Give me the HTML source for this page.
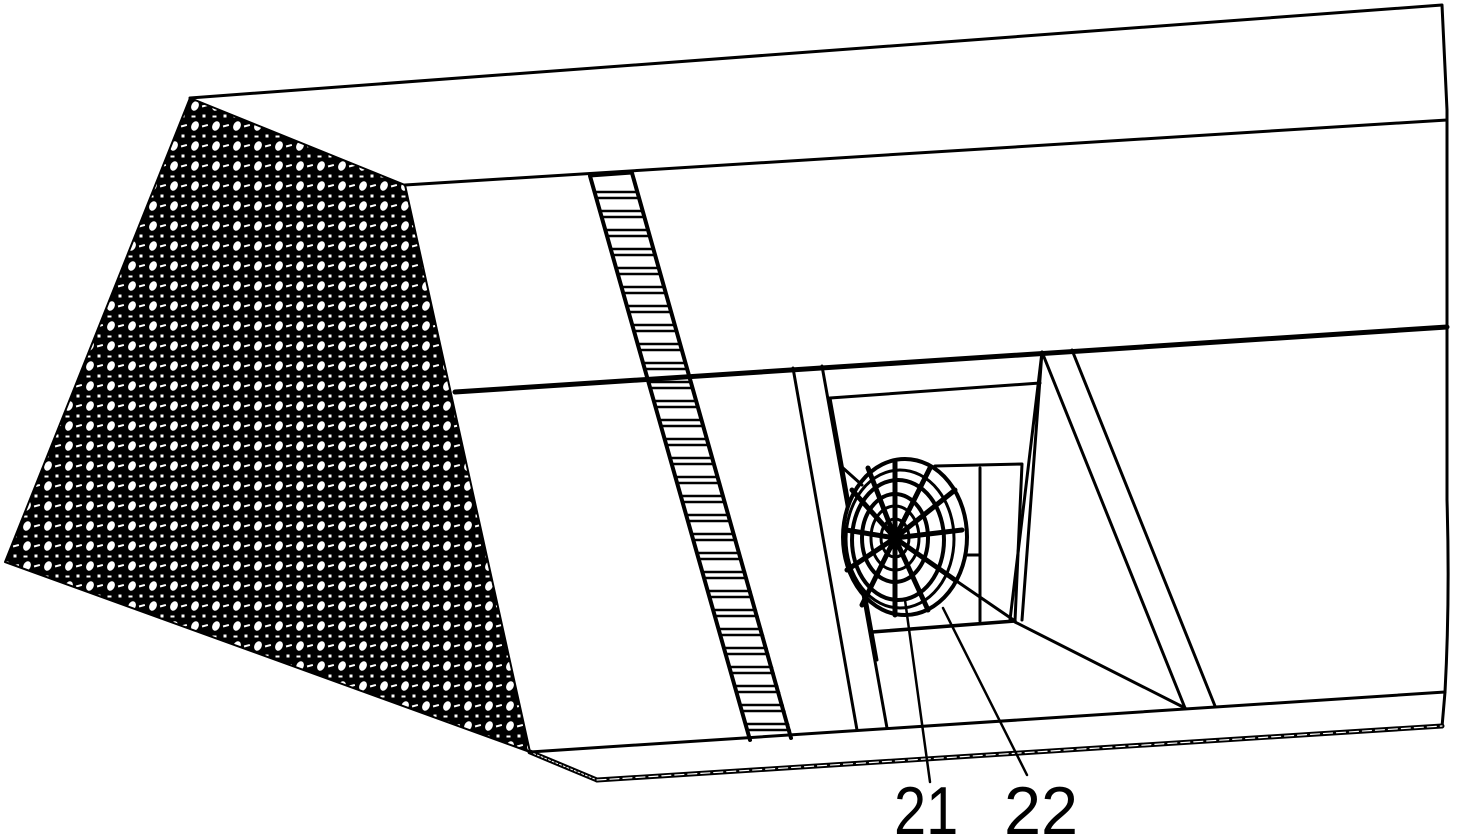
<!DOCTYPE html>
<html><head><style>html,body{margin:0;padding:0;background:#fff}svg{display:block}</style></head>
<body>
<svg width="1462" height="839" viewBox="0 0 1462 839" xmlns="http://www.w3.org/2000/svg">
<defs>
<pattern id="mesh" patternUnits="userSpaceOnUse" width="21" height="20">
<rect width="21" height="20" fill="#000"/>
<ellipse cx="6" cy="6" rx="3.6" ry="5" fill="#fff" transform="rotate(25 6 6)"/>
<rect x="13" y="5" width="6" height="2" fill="#fff" transform="rotate(-15 15 6)"/>
<rect x="2.5" y="15.5" width="4" height="2" fill="#fff"/>
<rect x="13.5" y="14.5" width="3" height="3" fill="#fff"/>
</pattern>
</defs>
<g fill="none" stroke="#000" stroke-linecap="round" stroke-linejoin="round">
<polygon points="190,98 405,185 530,752 5,562" fill="url(#mesh)" stroke="#000" stroke-width="2"/>
<path d="M530,752 L597,780" stroke-width="5"/>
<path d="M530,752 L597,780" stroke="#fff" stroke-width="1" stroke-dasharray="2 2"/>
<path d="M190,98 L1442,5 L1447,110 L1447,500 Q1450,600 1445,692 L1442,727" stroke-width="3"/>
<path d="M405,185 L1447,120" stroke-width="3"/>
<path d="M455,392 L1447,327" stroke-width="5"/>
<path d="M530,752 L1445,692" stroke-width="3"/>
<path d="M597,780 L1442,726" stroke-width="5"/>
<path d="M597,780 L1442,726" stroke="#fff" stroke-width="1.2" stroke-dasharray="9 4"/>
<path d="M590,176 L750,740 M632,173 L791,738" stroke-width="4"/>
<path d="M590,176 L632,173" stroke-width="3"/>
<g transform="translate(540.2,0) skewX(15.8)" stroke-width="2.5">
<path d="M0,192 L43,192 M0,198 L43,198 M0,211 L43,211 M0,217 L43,217 M0,230 L43,230 M0,236 L43,236 M0,249 L43,249 M0,255 L43,255 M0,268 L43,268 M0,274 L43,274 M0,287 L43,287 M0,293 L43,293 M0,306 L43,306 M0,312 L43,312 M0,325 L43,325 M0,331 L43,331 M0,344 L43,344 M0,350 L43,350 M0,363 L43,363 M0,369 L43,369 M0,382 L43,382 M0,388 L43,388 M0,401 L43,401 M0,407 L43,407 M0,420 L43,420 M0,426 L43,426 M0,439 L43,439 M0,445 L43,445 M0,458 L43,458 M0,464 L43,464 M0,477 L43,477 M0,483 L43,483 M0,496 L43,496 M0,502 L43,502 M0,515 L43,515 M0,521 L43,521 M0,534 L43,534 M0,540 L43,540 M0,553 L43,553 M0,559 L43,559 M0,572 L43,572 M0,578 L43,578 M0,591 L43,591 M0,597 L43,597 M0,610 L43,610 M0,616 L43,616 M0,629 L43,629 M0,635 L43,635 M0,648 L43,648 M0,654 L43,654 M0,667 L43,667 M0,673 L43,673 M0,686 L43,686 M0,692 L43,692 M0,705 L43,705 M0,711 L43,711 M0,724 L43,724 M0,730 L43,730"/>
</g>
<path d="M793,368 L857,730 M822,366 L887,728" stroke-width="3"/>
<path d="M830,398 L1040,383" stroke-width="3"/>
<path d="M830,398 L877,660" stroke-width="3"/>
<path d="M1042,352 L1010,620 M1042,352 L1022,620" stroke-width="3"/>
<path d="M1042,352 L1185,708 M1072,350 L1215,706" stroke-width="3"/>
<path d="M1015,622 L1185,708" stroke-width="3"/>
<path d="M872,632 L1015,621" stroke-width="3.5"/>
<path d="M935,466 L1022,464 L1015,621 M980,468 L980,621 M960,555 L980,555" stroke-width="3"/>
<path d="M955,580 L1015,621" stroke-width="3"/>
<ellipse cx="905" cy="537" rx="62" ry="78" fill="#fff" stroke-width="4"/>
<ellipse cx="900" cy="539" rx="54" ry="69" stroke-width="3"/>
<ellipse cx="898" cy="540" rx="46" ry="60" stroke-width="4"/>
<ellipse cx="895" cy="538" rx="33" ry="44" stroke-width="4"/>
<ellipse cx="895" cy="538" rx="24" ry="32" stroke-width="3"/>
<ellipse cx="895" cy="538" rx="14" ry="19" stroke-width="3"/>
<g stroke-width="5">
<path d="M895,538 L895,462 M895,538 L930,468 M895,538 L955,490 M895,538 L962,530 M895,538 L955,580 M895,538 L928,610 M895,538 L895,615 M895,538 L862,605 M895,538 L847,570 M895,538 L846,530 M895,538 L852,490 M895,538 L868,468"/>
</g>
<path d="M843,468 L862,485" stroke-width="3"/>
<path d="M905,600 L930,782 M943,608 L1027,775" stroke-width="2.5"/>
</g>
<g font-family="Liberation Sans, sans-serif" font-size="68" fill="#000">
<text transform="translate(894,834) scale(0.85,1)">21</text>
<text transform="translate(1004,834) scale(0.98,1)">22</text>
</g>
</svg>
</body></html>
